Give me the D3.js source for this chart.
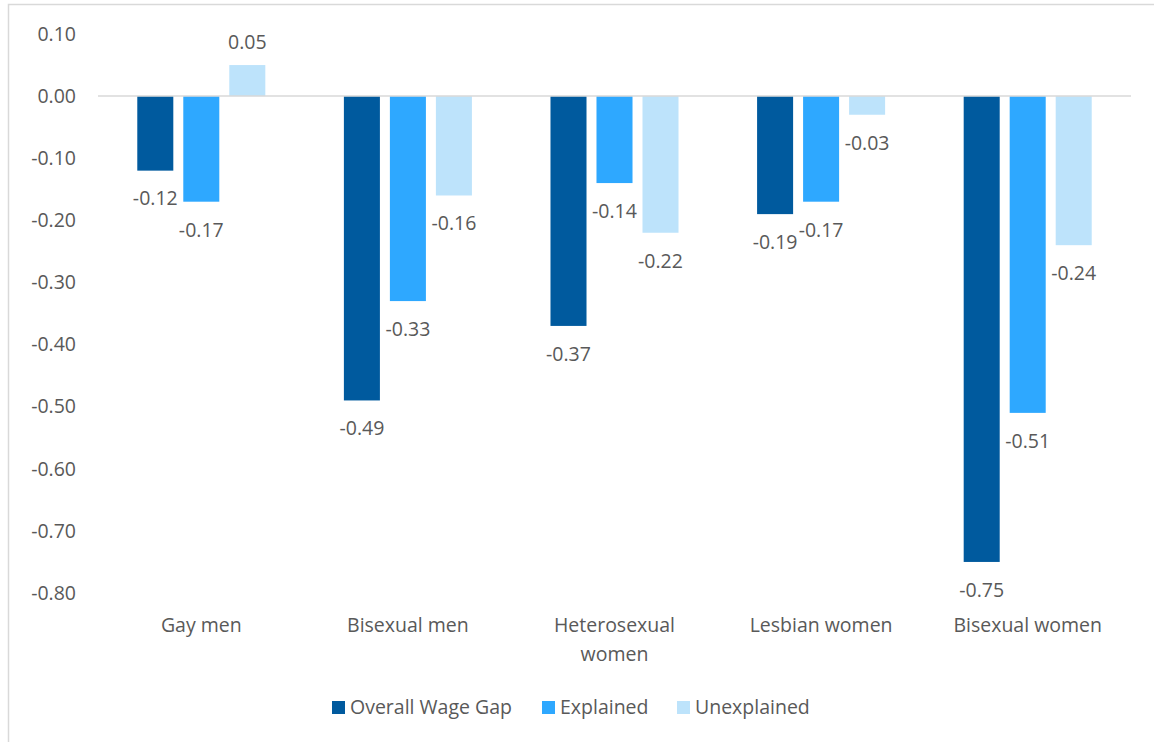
<!DOCTYPE html>
<html><head><meta charset="utf-8">
<script src="https://cdn.jsdelivr.net/npm/d3@7"></script>
<style>body{margin:0;background:#fff}svg{display:block}text{font-family:"Open Sans",Lato,sans-serif;fill:#595959}</style>
</head><body><svg id="c" width="1154" height="742"></svg>
<script>
const categories = ["Gay men","Bisexual men","Heterosexual women","Lesbian women","Bisexual women"];
const seriesNames = ["Overall Wage Gap","Explained","Unexplained"];
const overall = [-0.12,-0.49,-0.37,-0.19,-0.75];
const explained = [-0.17,-0.33,-0.14,-0.17,-0.51];
const unexplained = [0.05,-0.16,-0.22,-0.03,-0.24];
const yTicks = [0.10,0.00,-0.10,-0.20,-0.30,-0.40,-0.50,-0.60,-0.70,-0.80];
const colors = ["#005a9e","#2ea8ff","#bde3fb"];
const series = [overall, explained, unexplained];
const FS = 19.5;

const svg = d3.select("#c");
svg.append("path").attr("d","M8.5,742V4.5H1154").attr("fill","none").attr("stroke","#d9d9d9").attr("stroke-width",1.5);

const x0 = d3.scaleBand().domain(categories).range([98,1131]).paddingInner(0).paddingOuter(0);
const x1 = d3.scaleBand().domain(seriesNames).range([0,x0.bandwidth()]).paddingInner(0.217).paddingOuter(0.854);
const y = d3.scaleLinear().domain([-0.8,0.1]).range([593,34]);

svg.append("g").selectAll("text").data(yTicks).join("text")
  .attr("x",76).attr("y",d=>y(d)).attr("dy","0.35em").attr("text-anchor","end")
  .attr("font-size",FS).text(d=>d3.format(".2f")(d).replace("−","-"));

const g = svg.append("g");
series.forEach((vals,si)=>{
  g.selectAll(null).data(vals).join("rect")
    .attr("x",(d,i)=>x0(categories[i])+x1(seriesNames[si]))
    .attr("width",x1.bandwidth())
    .attr("y",d=>Math.min(y(d),y(0)))
    .attr("height",d=>Math.abs(y(d)-y(0)))
    .attr("fill",colors[si]);
});
svg.append("line").attr("x1",98).attr("x2",1131).attr("y1",y(0)).attr("y2",y(0)).attr("stroke","#d9d9d9").attr("stroke-width",1.5);

series.forEach((vals,si)=>{
  svg.append("g").selectAll("text").data(vals).join("text")
    .attr("x",(d,i)=>x0(categories[i])+x1(seriesNames[si])+x1.bandwidth()/2)
    .attr("y",d=>d<0? y(d)+28 : y(d)-23)
    .attr("dy","0.35em").attr("text-anchor","middle").attr("font-size",FS)
    .text(d=>d3.format(".2f")(d).replace("−","-"));
});

const wrap = {"Heterosexual women":["Heterosexual","women"]};
categories.forEach(c=>{
  const lines = wrap[c]||[c];
  const t = svg.append("text").attr("x",x0(c)+x0.bandwidth()/2).attr("y",625).attr("text-anchor","middle").attr("font-size",FS);
  lines.forEach((l,i)=>t.append("tspan").attr("x",x0(c)+x0.bandwidth()/2).attr("dy",i===0?"0.35em":"29").text(l));
});

const legX = [332,542,677];
seriesNames.forEach((s,i)=>{
  svg.append("rect").attr("x",legX[i]).attr("y",701).attr("width",13).attr("height",13).attr("fill",colors[i]);
  svg.append("text").attr("x",legX[i]+18).attr("y",707).attr("dy","0.35em").attr("font-size",FS).text(s);
});
</script></body></html>
